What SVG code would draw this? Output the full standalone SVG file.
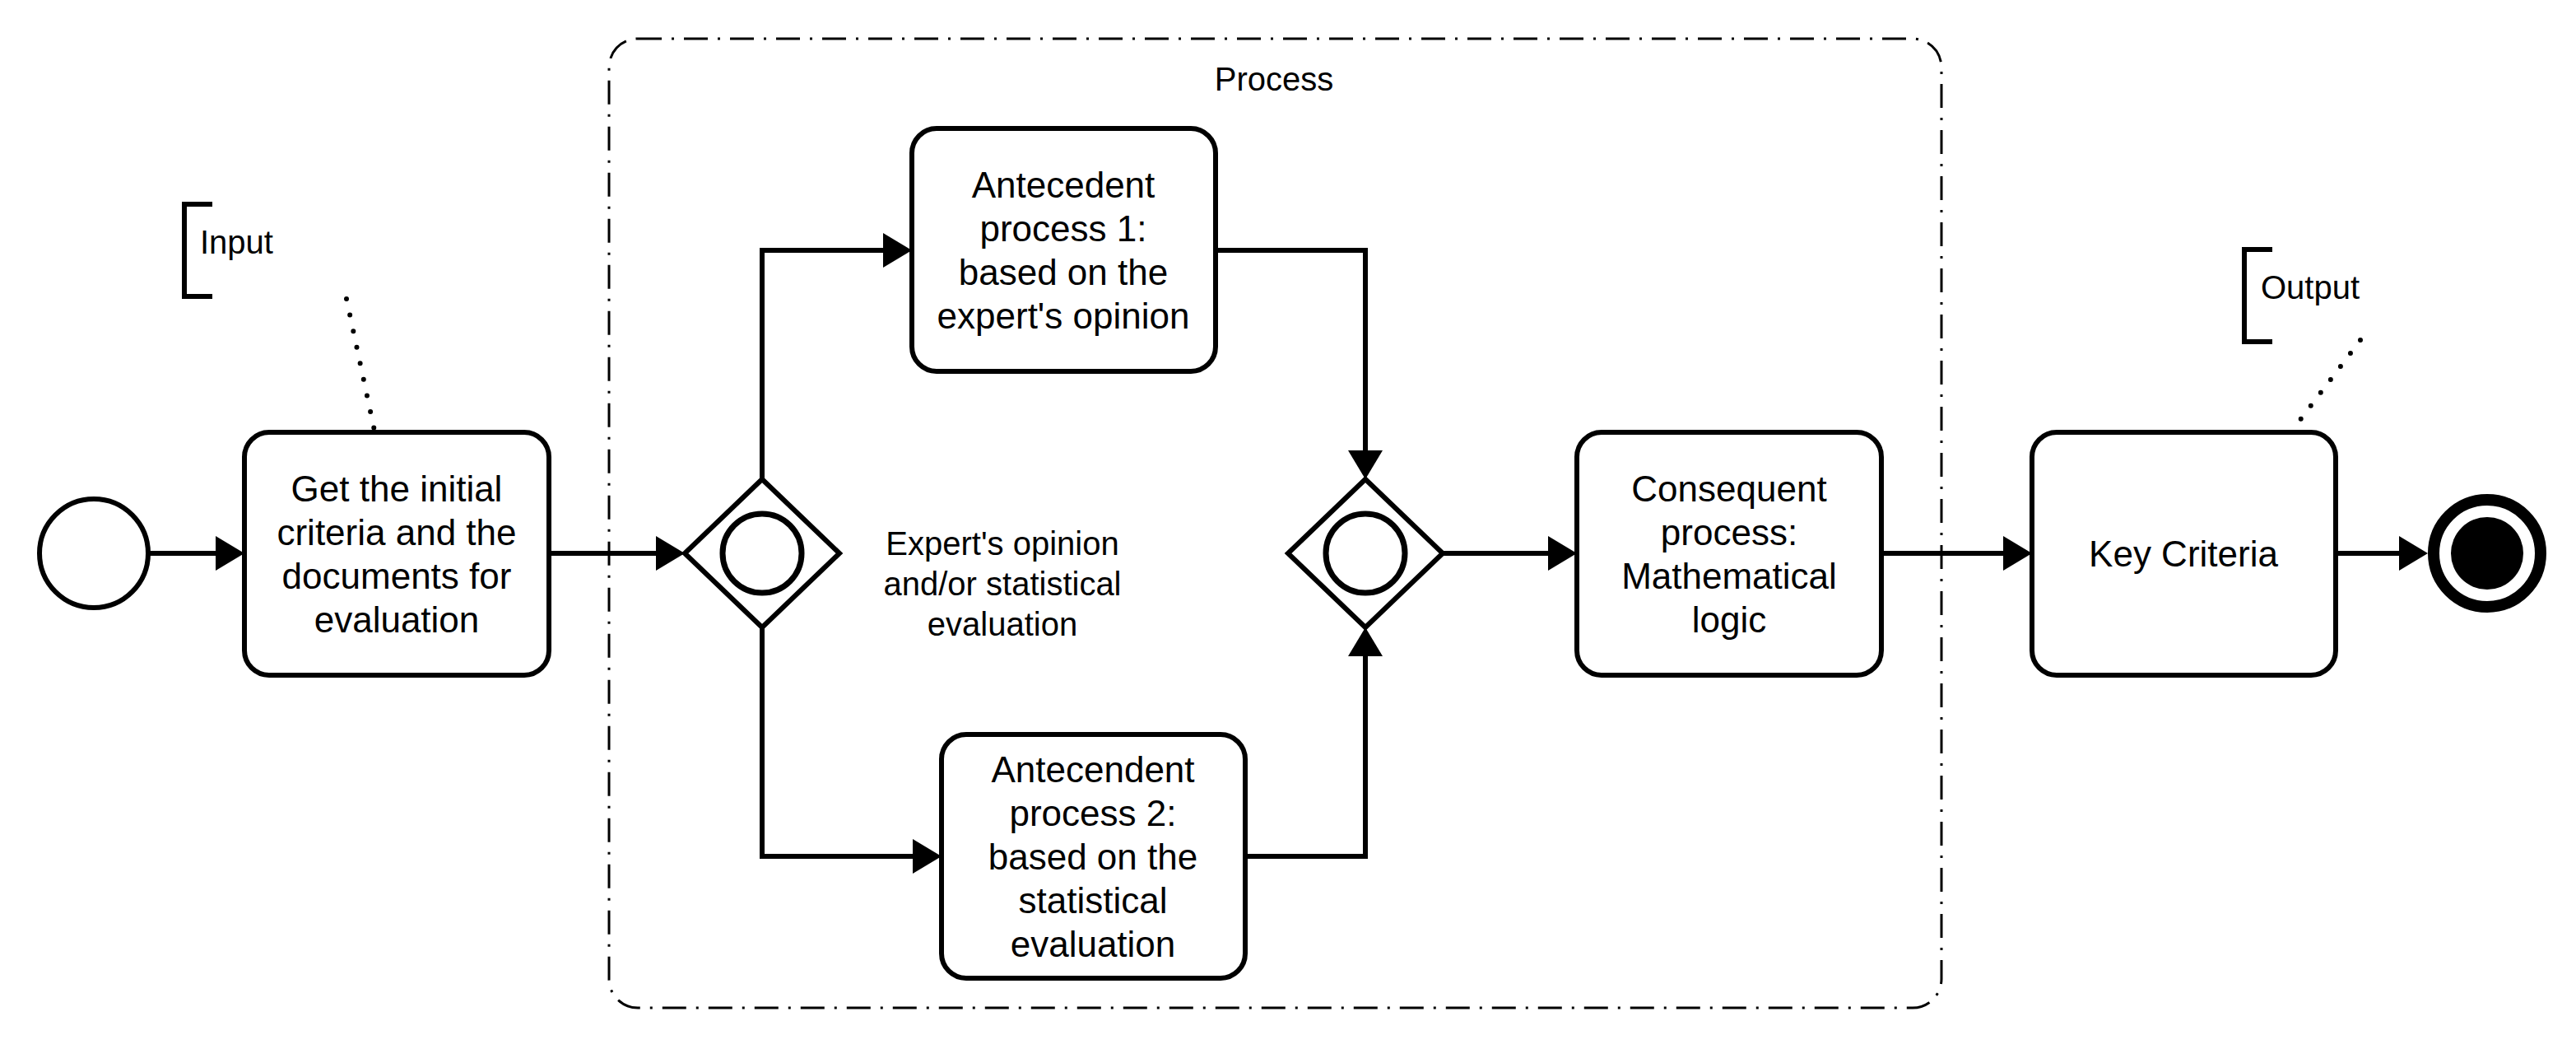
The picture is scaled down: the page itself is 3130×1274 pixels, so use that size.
<svg xmlns="http://www.w3.org/2000/svg" width="3130" height="1274" viewBox="0 0 3130 1274">
<style>
.node{fill:#fff;stroke:#000;stroke-width:6}
.t{font-family:"Liberation Sans",Arial,sans-serif;font-size:44px;fill:#000;text-anchor:middle}
.lbl{font-family:"Liberation Sans",Arial,sans-serif;font-size:40px;fill:#000}
.flow{fill:none;stroke:#000;stroke-width:6;marker-end:url(#arr)}
.assoc{fill:none;stroke:#000;stroke-width:6;stroke-linecap:round;stroke-dasharray:0 20}
.bracket{fill:none;stroke:#000;stroke-width:6}
</style>
<defs>
<marker id="arr" markerUnits="userSpaceOnUse" markerWidth="36" markerHeight="44" refX="0" refY="21" orient="auto">
<path d="M0,0 L35,21 L0,42 Z" fill="#000"/>
</marker>
</defs>
<rect width="3130" height="1274" fill="#fff"/>
<g id="process-group">
<rect x="740" y="47" width="1619" height="1177" rx="35" fill="none" stroke="#000" stroke-width="3" stroke-dasharray="29 12 3 12"/>
<text class="lbl" x="1548" y="110" text-anchor="middle">Process</text>
</g>
<g id="connectors">
<path class="flow" d="M180,672 H262"/>
<path class="flow" d="M667,672 H797"/>
<path class="flow" d="M926,582 V304 H1073"/>
<path class="flow" d="M926,762 V1040 H1109"/>
<path class="flow" d="M1477,304 H1659 V547"/>
<path class="flow" d="M1513,1040 H1659 V797"/>
<path class="flow" d="M1753,672 H1881"/>
<path class="flow" d="M2286,672 H2434"/>
<path class="flow" d="M2838,672 H2915"/>
<path class="assoc" d="M421,363 L455,523"/>
<path class="assoc" d="M2868,413 L2788,519"/>
</g>
<g id="start">
<circle cx="114" cy="672" r="66" fill="#fff" stroke="#000" stroke-width="6"/>
</g>
<g id="task-get-criteria">
<rect class="node" x="297" y="525" width="370" height="295" rx="30"/>
<text class="t"><tspan x="482" y="609">Get the initial</tspan><tspan x="482" y="662">criteria and the</tspan><tspan x="482" y="715">documents for</tspan><tspan x="482" y="768">evaluation</tspan></text>
</g>
<g id="input-annotation">
<path class="bracket" d="M258,248 H224 V360 H258"/>
<text class="lbl" x="243" y="308">Input</text>
</g>
<g id="gateway-split">
<path d="M926,582 L1020,672 L926,762 L832,672 Z" fill="#fff" stroke="#000" stroke-width="6"/>
<circle cx="926" cy="672" r="48" fill="none" stroke="#000" stroke-width="7"/>
<text class="lbl" text-anchor="middle"><tspan x="1218" y="674">Expert's opinion</tspan><tspan x="1218" y="723">and/or statistical</tspan><tspan x="1218" y="772">evaluation</tspan></text>
</g>
<g id="task-antecedent-1">
<rect class="node" x="1108" y="156" width="369" height="295" rx="30"/>
<text class="t"><tspan x="1292" y="240">Antecedent</tspan><tspan x="1292" y="293">process 1:</tspan><tspan x="1292" y="346">based on the</tspan><tspan x="1292" y="399">expert's opinion</tspan></text>
</g>
<g id="task-antecedent-2">
<rect class="node" x="1144" y="892" width="369" height="296" rx="30"/>
<text class="t"><tspan x="1328" y="950">Antecendent</tspan><tspan x="1328" y="1003">process 2:</tspan><tspan x="1328" y="1056">based on the</tspan><tspan x="1328" y="1109">statistical</tspan><tspan x="1328" y="1162">evaluation</tspan></text>
</g>
<g id="gateway-join">
<path d="M1659,582 L1753,672 L1659,762 L1565,672 Z" fill="#fff" stroke="#000" stroke-width="6"/>
<circle cx="1659" cy="672" r="48" fill="none" stroke="#000" stroke-width="7"/>
</g>
<g id="task-consequent">
<rect class="node" x="1916" y="525" width="370" height="295" rx="30"/>
<text class="t"><tspan x="2101" y="609">Consequent</tspan><tspan x="2101" y="662">process:</tspan><tspan x="2101" y="715">Mathematical</tspan><tspan x="2101" y="768">logic</tspan></text>
</g>
<g id="task-key-criteria">
<rect class="node" x="2469" y="525" width="369" height="295" rx="30"/>
<text class="t" x="2653" y="688">Key Criteria</text>
</g>
<g id="output-annotation">
<path class="bracket" d="M2761,303 H2727 V415 H2761"/>
<text class="lbl" x="2747" y="363">Output</text>
</g>
<g id="end">
<circle cx="3022" cy="672" r="65" fill="#fff" stroke="#000" stroke-width="14"/>
<circle cx="3022" cy="672" r="44" fill="#000"/>
</g>
</svg>
